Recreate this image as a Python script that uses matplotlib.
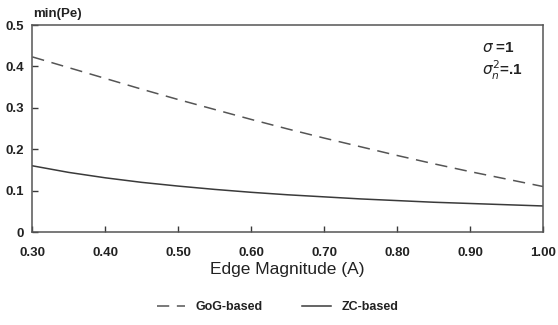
import matplotlib
matplotlib.use("Agg")
import matplotlib.pyplot as plt

plt.rcParams['font.family'] = ['Liberation Sans', 'DejaVu Sans']

# valores
magnitud = [0.30, 0.35, 0.40, 0.45, 0.50, 0.55, 0.60, 0.65, 0.70,
            0.75, 0.80, 0.85, 0.90, 0.95, 1.00]
gog = [0.423, 0.397, 0.371, 0.345, 0.320, 0.296, 0.272, 0.249, 0.227,
       0.206, 0.185, 0.165, 0.146, 0.128, 0.110]
zc = [0.160, 0.144, 0.131, 0.120, 0.111, 0.103, 0.096, 0.090, 0.085,
      0.080, 0.076, 0.072, 0.069, 0.066, 0.063]

xticks = [0.30, 0.40, 0.50, 0.60, 0.70, 0.80, 0.90, 1.00]
xlabels = ['0.30', '0.40', '0.50', '0.60', '0.70', '0.80', '0.90', '1.00']
yticks = [0, 0.1, 0.2, 0.3, 0.4, 0.5]
ylabels = ['0', '0.1', '0.2', '0.3', '0.4', '0.5']

fig = plt.figure(figsize=(5.58, 3.25), dpi=100)
ax = fig.add_axes([0.058, 0.286, 0.915, 0.637])

color = '#3a3a3a'
ax.plot(magnitud, gog, color='#555555', lw=1.1, dashes=(8, 5), label='GoG-based')
ax.plot(magnitud, zc, color=color, lw=1.1, label='ZC-based')

ax.set_xlim(0.3, 1.0)
ax.set_ylim(0, 0.5)
ax.set_xticks(xticks)
ax.set_xticklabels(xlabels, fontsize=9.5, fontweight='bold', color='#222222')
ax.set_yticks(yticks)
ax.set_yticklabels(ylabels, fontsize=9.5, fontweight='bold', color='#222222')
ax.tick_params(direction='in', length=4, width=1, color=color)
ax.tick_params(axis='x', pad=11)
ax.tick_params(axis='y', pad=6)
for s in ax.spines.values():
    s.set_color('#555555')
    s.set_linewidth(1.1)

ax.set_xlabel('Edge Magnitude (A)', fontsize=12.5, labelpad=2, color='#222222')
fig.text(0.059, 0.957, 'min(Pe)', fontsize=9.5, fontweight='bold', color='#222222',
         ha='left', va='center')

ax.text(0.88, 0.87, r'$\sigma$ =1', transform=ax.transAxes, fontsize=11,
        fontweight='bold', color='#222222')
ax.text(0.88, 0.755, r'$\sigma_n^2$=.1', transform=ax.transAxes, fontsize=11,
        fontweight='bold', color='#222222')

leg = fig.legend(loc='center', bbox_to_anchor=(0.497, 0.055), ncol=2, frameon=False,
                 prop={'size': 9, 'weight': 'bold'}, handlelength=2.3,
                 columnspacing=3.2, handletextpad=0.8)
for t in leg.get_texts():
    t.set_color('#222222')

fig.savefig('out.png', dpi=100)
